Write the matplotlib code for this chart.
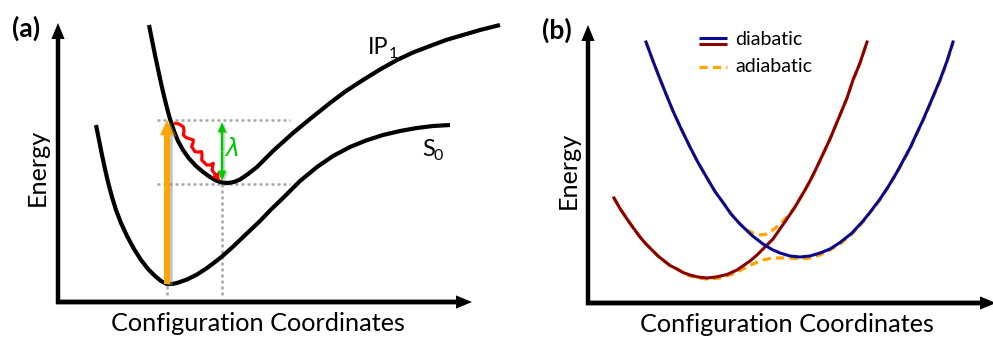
import matplotlib
matplotlib.use('Agg')
import matplotlib.pyplot as plt
import matplotlib.patheffects as pe

plt.rcParams['font.family'] = ['Lato', 'DejaVu Sans']

# ---------------- data (pixel-space schematic values) ----------------
# Panel (a): potential energy curves
ip1_x = [149, 152, 155, 158, 161, 164, 167, 170, 174, 178, 183, 189, 196, 203, 210, 216,
         222, 228, 234, 240, 248, 257, 265, 273, 283, 293, 310, 330, 346, 363, 380, 397,
         413, 430, 446, 463, 480, 500]
ip1_y = [25, 40, 55, 69, 83, 96, 108, 119, 131, 141, 150, 158.5, 166, 172, 177, 180.5,
         182.5, 183, 182, 179.5, 174, 167, 159, 151, 142, 133, 119, 103, 91, 80, 69.5, 60,
         52.5, 46, 40, 35, 30, 25]
s0_x = [96, 99, 102, 105, 108, 112, 116, 121, 127, 134, 141, 148, 155, 161, 167, 172,
        177, 187, 197, 207, 215, 222, 231, 240, 250, 260, 271, 283, 300, 317, 333, 350,
        366, 383, 400, 417, 433, 450]
s0_y = [125, 140, 155, 169, 182, 197, 210, 223, 236, 249, 260, 269, 276, 281, 284, 284,
        283, 279.5, 274.5, 268, 262, 256.5, 248.5, 240, 230.5, 221, 209.5, 198, 181, 167,
        156, 147, 140.5, 135, 131, 128, 126, 125]
wave_x = [175.0, 179, 183.3, 184, 183.3, 186, 188.3, 193.3, 193, 191.7, 195, 198, 201.7,
          202, 201.7, 206.7, 210, 213.3, 212]
wave_y = [123.3, 124, 126.7, 131, 135, 137.5, 138.3, 140, 143, 146.7, 151.7, 152, 151.7,
          156, 160, 165, 165, 163.3, 170]
wave_tip = (220, 181)
excite_x, excite_y0, excite_y1 = 167, 284, 120
lambda_x, lambda_y0, lambda_y1 = 222, 122, 181
hdots_y = [120, 184]
hdots_x = (157, 290)
vdots = [(222, 184, 298), (167, 286, 298)]

# Panel (b): diabatic and adiabatic curves
blue_x = [646, 653, 660, 666, 673, 681, 690, 698, 707, 715, 723, 731, 740, 752, 763, 772,
          780, 790, 800, 810, 820, 830, 840, 852, 863, 871, 880, 888, 897, 904, 910, 916,
          923, 932, 940, 947, 953]
blue_y = [42, 61, 79, 94, 111, 128.5, 147, 162.5, 178, 191.5, 202.5, 214, 224, 235.5, 244,
          249.5, 253, 256, 257, 256, 253, 249, 242.5, 233, 221, 211, 199, 187, 172, 159,
          148, 135, 120, 99, 80, 61, 42]
red_x = [614, 620, 627, 633, 640, 646, 652, 658, 663, 670, 677, 683, 690, 698, 707, 716,
         727, 737, 750, 757, 765, 773, 781, 790, 795, 800, 805, 810, 815, 820, 830, 840,
         847, 853, 860, 867]
red_y = [198, 208.5, 219, 227.5, 237, 244, 250, 256, 260, 265.5, 269, 272.5, 275, 277,
         278, 277, 274.5, 270, 261, 255, 247, 239, 227.5, 214.5, 207, 198.5, 190, 181,
         171, 160.5, 139, 115, 98, 80, 63, 42]
adia_low_x = [614, 620, 627, 633, 640, 646, 652, 658, 663, 670, 677, 683, 690, 698, 707,
              720, 733, 745, 753, 763, 770, 777, 790, 800, 810, 820, 830, 840, 852, 863,
              871, 880, 888, 897, 904, 910, 916, 923, 932, 940, 947, 953]
adia_low_y = [198, 208.5, 219, 227.5, 237, 244, 250, 256, 260, 265.5, 269, 272.5, 276, 278,
              279, 278, 274, 268, 264, 260, 258.5, 258, 258, 259, 258, 255, 250, 244, 234,
              222, 211.5, 200, 187.5, 173, 160, 149, 135.5, 121, 100, 81, 62, 43]
adia_up_x = [646, 653, 660, 666, 673, 681, 690, 698, 707, 715, 723, 733, 740, 747, 753, 760,
             767, 773, 780, 787, 795, 800, 805, 810, 815, 820, 830, 840, 847, 853, 860, 867]
adia_up_y = [42, 61, 79, 94, 111, 128.5, 147, 162.5, 178, 191.5, 202.5, 216, 224, 230, 233,
             235, 234, 230, 224, 217, 207, 198.5, 190, 181, 171, 160.5, 139, 115, 98, 80,
             63, 42]

legend_labels = ['diabatic', 'adiabatic']

# ---------------- figure ----------------
W, H = 993, 338
fig = plt.figure(figsize=(W / 100, H / 100), dpi=100)
split = 520
ax_a = fig.add_axes([0, 0, split / W, 1])
ax_b = fig.add_axes([split / W, 0, 1 - split / W, 1])
ax_a.set_xlim(0, split)
ax_b.set_xlim(split, W)
for ax in (ax_a, ax_b):
    ax.set_ylim(H, 0)
    ax.axis('off')

TXT = 18.2


def arrow(ax, start, end, color, tail, hw, hl, z=4, effects=None):
    a = ax.annotate('', xy=end, xytext=start, annotation_clip=False,
                    arrowprops=dict(arrowstyle=f'simple,head_length={hl},head_width={hw},tail_width={tail}',
                                    mutation_scale=10, lw=0, fc=color, ec='none',
                                    shrinkA=0, shrinkB=0))
    a.arrow_patch.set_zorder(z)
    if effects:
        a.arrow_patch.set_path_effects(effects)
    return a


# ---- panel (a) ----
# axes
ax_a.plot([56, 465], [302, 302], color='black', lw=3.2, solid_capstyle='butt', zorder=5)
arrow(ax_a, (58, 304), (58, 23), 'black', 0.32, 0.95, 1.15, z=5)
arrow(ax_a, (56, 302), (472, 302), 'black', 0.32, 0.95, 1.15, z=5)

# dotted guides
for y in hdots_y:
    ax_a.plot(hdots_x, [y, y], color='#A6A6A6', lw=1.8, dashes=(1.2, 1.2), zorder=1)
for x, y0, y1 in vdots:
    ax_a.plot([x, x], [y0, y1], color='#A6A6A6', lw=1.8, dashes=(1.2, 1.2), zorder=1)

# curves
ax_a.plot(ip1_x, ip1_y, color='black', lw=3.0, zorder=3, solid_capstyle='butt',
          solid_joinstyle='round')
ax_a.plot(s0_x, s0_y, color='black', lw=3.0, zorder=3, solid_capstyle='butt',
          solid_joinstyle='round')

# excitation arrow (orange with soft shadow)
arrow(ax_a, (excite_x, excite_y0), (excite_x, excite_y1), '#FFA500', 0.43, 1.0, 1.1, z=2,
      effects=[pe.SimplePatchShadow(offset=(2, -1), shadow_rgbFace='0.55', alpha=0.5), pe.Normal()])

# relaxation wave (red)
ax_a.plot(wave_x, wave_y, color='#FF0000', lw=2.3, zorder=4, solid_joinstyle='round',
          solid_capstyle='round')
arrow(ax_a, (wave_x[-1], wave_y[-1]), wave_tip, '#FF0000', 0.23, 0.65, 0.6, z=4)

# lambda double arrow (green)
mid = (lambda_y0 + lambda_y1) / 2
glow = [pe.SimplePatchShadow(offset=(1.5, -1), shadow_rgbFace='0.6', alpha=0.4), pe.Normal()]
arrow(ax_a, (lambda_x, mid), (lambda_x, lambda_y0), '#00C800', 0.18, 0.62, 0.75, z=4, effects=glow)
arrow(ax_a, (lambda_x, mid), (lambda_x, lambda_y1), '#00C800', 0.18, 0.62, 0.75, z=4, effects=glow)
ax_a.text(231, 150, r'$\lambda$', color='#00C800', fontsize=17, ha='center', va='center',
          family='DejaVu Serif')

# labels
ax_a.text(368, 53.5, 'IP', fontsize=17, ha='left', va='baseline')
ax_a.text(388.5, 57.5, '1', fontsize=11.5, ha='left', va='baseline')
ax_a.text(422, 155.5, 'S', fontsize=17, ha='left', va='baseline')
ax_a.text(434, 160, '0', fontsize=11.5, ha='left', va='baseline')
ax_a.text(26, 28, '(a)', fontsize=19, fontweight='bold', ha='center', va='center')
ax_a.text(37, 167.5, 'Energy', fontsize=TXT, rotation=90, ha='center', va='center')
ax_a.text(258, 331, 'Configuration Coordinates', fontsize=TXT, ha='center', va='baseline')

# ---- panel (b) ----
ax_b.plot([586, 985], [303, 303], color='black', lw=3.2, solid_capstyle='butt', zorder=5)
arrow(ax_b, (588, 305), (588, 25), 'black', 0.32, 0.95, 1.15, z=5)
arrow(ax_b, (586, 303), (996, 303), 'black', 0.32, 0.95, 1.15, z=5)

dash = (2.6, 1.6)
ax_b.plot(adia_low_x, adia_low_y, color='#FFA500', lw=2.3, dashes=dash, zorder=2)
ax_b.plot(adia_up_x, adia_up_y, color='#FFA500', lw=2.3, dashes=dash, zorder=2)
ax_b.plot(red_x, red_y, color='#8B0000', lw=2.2, zorder=3, solid_joinstyle='round')
ax_b.plot(blue_x, blue_y, color='#0A0A8F', lw=2.2, zorder=3, solid_joinstyle='round')

# legend drawn as keys + text
ax_b.plot([699, 727], [38, 38], color='#0A0A8F', lw=2.2, solid_capstyle='butt')
ax_b.plot([699, 727], [43.5, 43.5], color='#8B0000', lw=2.2, solid_capstyle='butt')
ax_b.plot([699, 727], [66.5, 66.5], color='#FFA500', lw=2.3, dashes=dash)
ax_b.text(735, 45, legend_labels[0], fontsize=14, ha='left', va='baseline')
ax_b.text(735, 72, legend_labels[1], fontsize=14, ha='left', va='baseline')

ax_b.text(557, 30, '(b)', fontsize=19, fontweight='bold', ha='center', va='center')
ax_b.text(568.5, 170, 'Energy', fontsize=TXT, rotation=90, ha='center', va='center')
ax_b.text(787, 332.5, 'Configuration Coordinates', fontsize=TXT, ha='center', va='baseline')

fig.savefig('out.png', dpi=100)
